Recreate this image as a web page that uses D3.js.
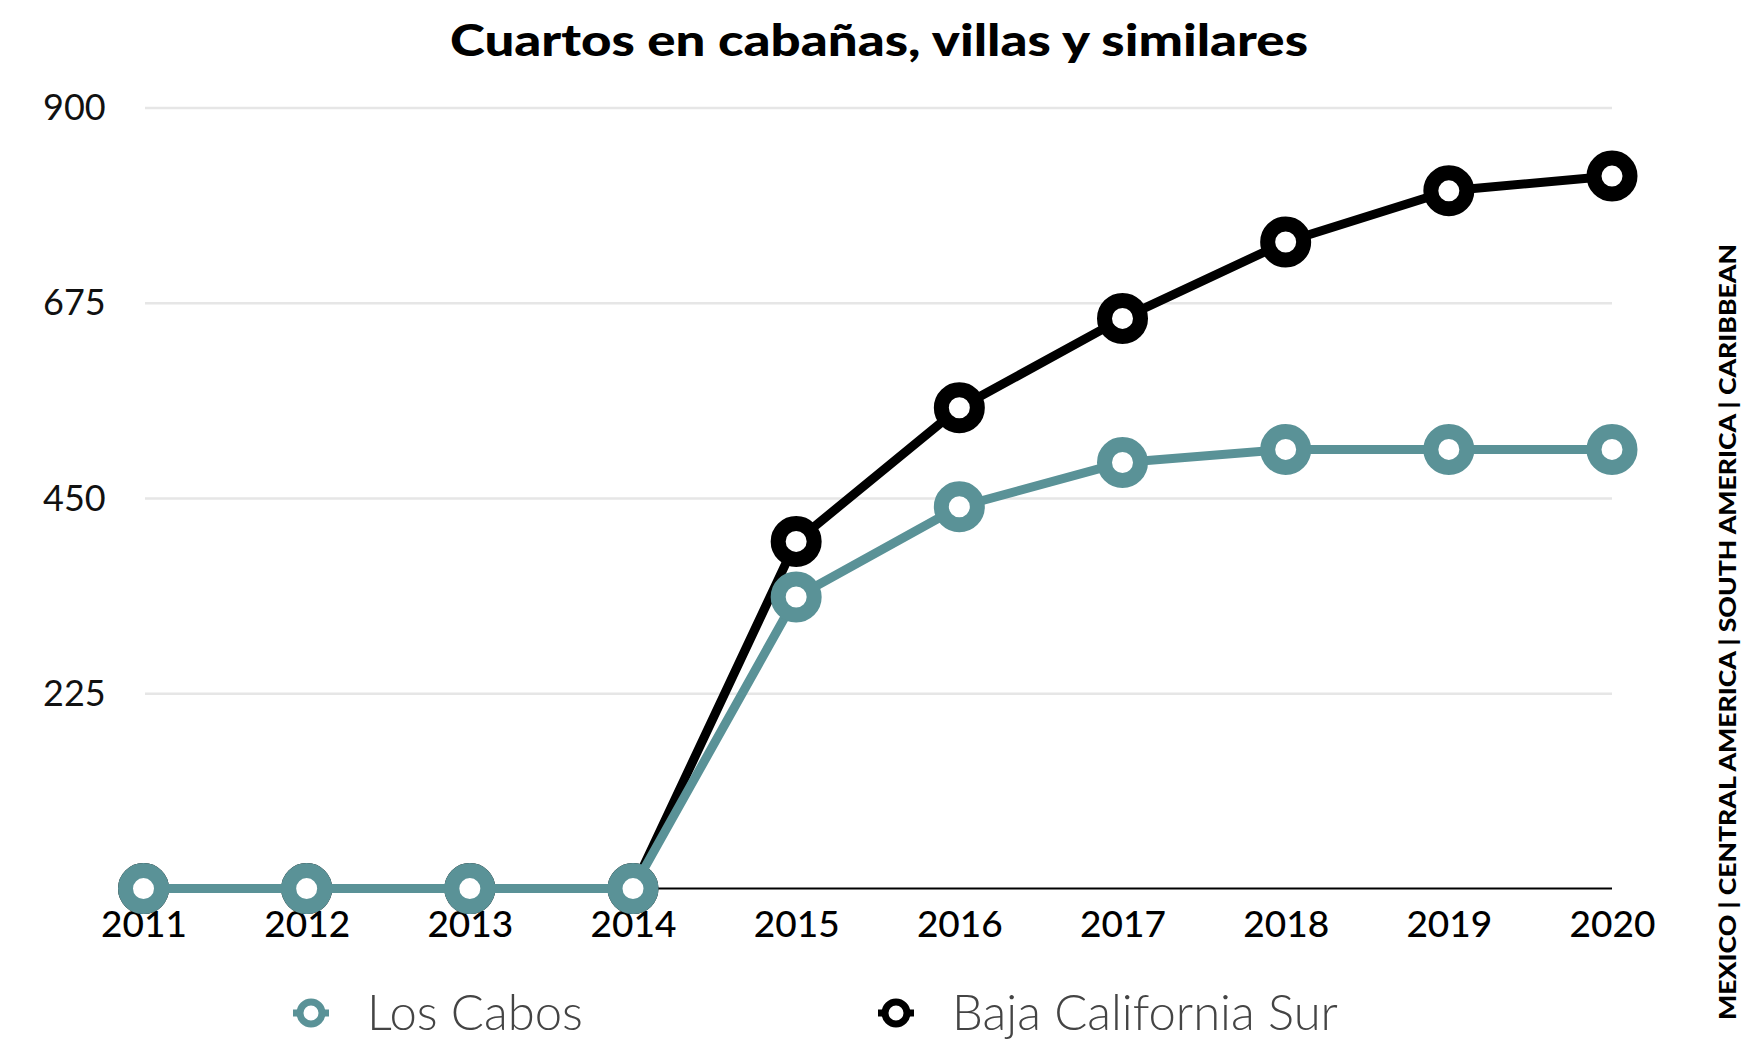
<!DOCTYPE html>
<html>
<head>
<meta charset="utf-8">
<script src="https://cdn.jsdelivr.net/npm/d3@7"></script>
<style>
  body { margin: 0; background: #fff; }
  svg { display: block; }
</style>
</head>
<body>
<svg width="1757" height="1043"></svg>
<script>
const years = ["2011", "2012", "2013", "2014", "2015", "2016", "2017", "2018", "2019", "2020"];
const losCabos = [0, 0, 0, 0, 336, 440, 491, 506, 506, 506];
const bajaSur = [0, 0, 0, 0, 400, 554, 657, 745, 804, 821];
const yTicks = [225, 450, 675, 900];
const seriesNames = ["Los Cabos", "Baja California Sur"];
const seriesColors = ["#5a9297", "#000000"];

const svg = d3.select("svg");
const fontFam = "Lato, 'Open Sans', sans-serif";

const x = d3.scalePoint().domain(years).range([143.5, 1612]);
const y = d3.scaleLinear().domain([0, 900]).range([888.6, 107.5]);

// title
svg.append("text")
    .attr("x", 879).attr("y", 56)
    .attr("text-anchor", "middle")
    .attr("font-family", fontFam)
    .attr("font-weight", 900)
    .attr("font-size", 43)
    .attr("textLength", 858)
    .attr("lengthAdjust", "spacingAndGlyphs")
    .text("Cuartos en cabañas, villas y similares");

// grid
const grid = svg.append("g")
    .attr("transform", "translate(1612,0)")
    .call(d3.axisLeft(y).tickValues(yTicks).tickSize(1612 - 145).tickFormat(""));
grid.select(".domain").remove();
grid.selectAll("line").attr("stroke", "#e6e6e6").attr("stroke-width", 2.5);

// y labels
svg.append("g").selectAll("text")
    .data(yTicks)
    .enter()
    .append("text")
    .attr("x", 43)
    .attr("y", d => y(d))
    .attr("dy", "0.35em")
    .attr("font-family", fontFam)
    .attr("font-weight", 400)
    .attr("font-size", 36)
    .attr("fill", "#111")
    .text(d => d);

// x axis
const xAxis = svg.append("g")
    .attr("transform", "translate(0," + y(0) + ")")
    .call(d3.axisBottom(x).tickSize(0).tickPadding(0));
xAxis.select(".domain").attr("stroke", "#000").attr("stroke-width", 2)
    .attr("d", "M143.5,0H1612");
xAxis.selectAll("text")
    .attr("y", 48)
    .attr("dy", 0)
    .attr("font-family", fontFam)
    .attr("font-weight", 500)
    .attr("font-size", 37)
    .attr("fill", "#000");

const line = d3.line()
    .x((d, i) => x(years[i]))
    .y(d => y(d));

// draw black first, teal on top
[[bajaSur, 1], [losCabos, 0]].forEach(([vals, k]) => {
  svg.append("path")
      .datum(vals)
      .attr("d", line)
      .attr("fill", "none")
      .attr("stroke", seriesColors[k])
      .attr("stroke-width", 9)
      .attr("stroke-linejoin", "round");
  svg.append("g").selectAll("circle")
      .data(vals)
      .enter()
      .append("circle")
      .attr("cx", (d, i) => x(years[i]))
      .attr("cy", d => y(d))
      .attr("r", 18)
      .attr("fill", "#fff")
      .attr("stroke", seriesColors[k])
      .attr("stroke-width", 15);
});

// legend
const legendX = [311, 896];
seriesNames.forEach((name, k) => {
  const g = svg.append("g").attr("transform", "translate(" + legendX[k] + ",1013)");
  g.append("line").attr("x1", -18).attr("x2", 18)
      .attr("stroke", seriesColors[k]).attr("stroke-width", 7);
  g.append("circle").attr("r", 11).attr("fill", "#fff")
      .attr("stroke", seriesColors[k]).attr("stroke-width", 7);
  g.append("text")
      .attr("x", 56).attr("dy", "0.35em")
      .attr("font-family", fontFam)
      .attr("font-weight", 300)
      .attr("font-size", 49)
      .attr("fill", "#444")
      .text(name);
});

// side label
svg.append("text")
    .attr("transform", "translate(1736,632) rotate(-90)")
    .attr("text-anchor", "middle")
    .attr("font-family", fontFam)
    .attr("font-weight", 900)
    .attr("font-size", 23)
    .attr("textLength", 776)
    .attr("lengthAdjust", "spacingAndGlyphs")
    .text("MEXICO | CENTRAL AMERICA | SOUTH AMERICA | CARIBBEAN");
</script>
</body>
</html>
